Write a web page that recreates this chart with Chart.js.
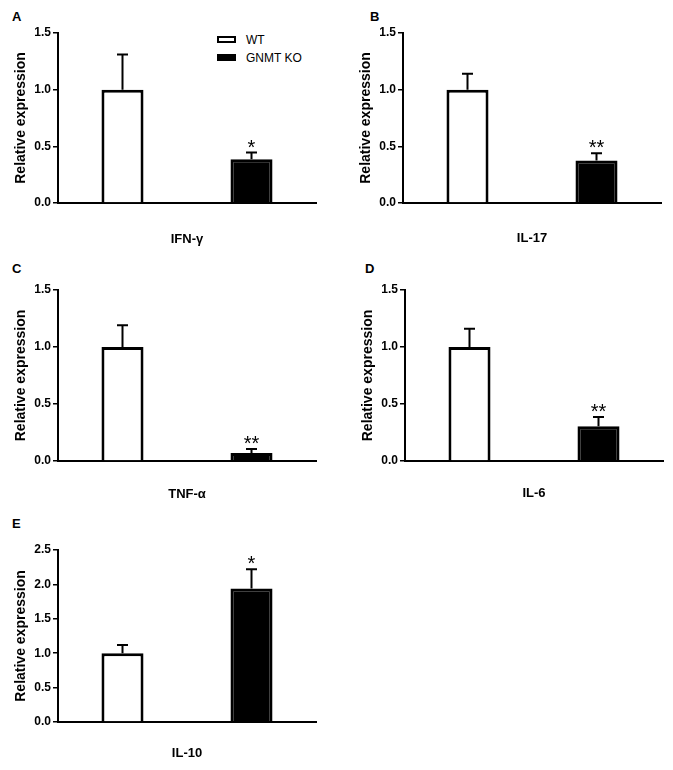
<!DOCTYPE html>
<html>
<head>
<meta charset="utf-8">
<script src="https://cdn.jsdelivr.net/npm/chart.js@4.4.0/dist/chart.umd.min.js"></script>
<style>
  html, body { margin:0; padding:0; background:#fff; }
  #fig { position:relative; width:673px; height:770px; overflow:hidden; font-family:"Liberation Sans", Arial, Helvetica, sans-serif; }
  #fig canvas { position:absolute; }
  .letter { position:absolute; font-weight:bold; font-size:13px; line-height:13px; color:#000; }
  .lg { position:absolute; font-size:12px; line-height:14px; color:#000; }
  .lg i { position:absolute; left:0; top:3px; width:15px; height:3px; border:2.5px solid #000; }
  .lg span { position:absolute; left:29px; top:0; white-space:nowrap; }
</style>
</head>
<body>
<div id="fig">
  <div class="letter" style="left:12px;top:10px">A</div>
  <div class="letter" style="left:370px;top:10px">B</div>
  <div class="letter" style="left:12px;top:262px">C</div>
  <div class="letter" style="left:365px;top:262px">D</div>
  <div class="letter" style="left:12px;top:517px">E</div>
  <div class="lg" style="left:217px;top:33px"><i style="background:#fff"></i><span>WT</span></div>
  <div class="lg" style="left:217px;top:51px"><i style="background:#000"></i><span>GNMT KO</span></div>
</div>
<script>
// data
const groups    = ['WT','GNMT KO'];
const cytokines = ['IFN-γ','IL-17','TNF-α','IL-6','IL-10'];
const wtMean    = [1.00, 1.00, 1.00, 1.00, 1.00];
const wtSem     = [0.31, 0.14, 0.19, 0.16, 0.12];
const koMean    = [0.385, 0.375, 0.07, 0.305, 1.94];
const koSem     = [0.06, 0.065, 0.035, 0.08, 0.28];
const koStars   = ['*','**','**','**','*'];
const yMax      = [1.5, 1.5, 1.5, 1.5, 2.5];
const yStep     = 0.5;

// where each panel's canvas sits on the page
const boxes = [
  {left:0,   top:0,   w:326, h:250, padTop:33, zero:203, titleY:239},
  {left:345, top:0,   w:326, h:250, padTop:33, zero:203, titleY:238},
  {left:0,   top:255, w:326, h:250, padTop:35, zero:461, titleY:494},
  {left:347, top:255, w:326, h:250, padTop:35, zero:461, titleY:493},
  {left:0,   top:515, w:326, h:255, padTop:35, zero:722, titleY:753}
];

const FONT = '"Liberation Sans", Arial, Helvetica, sans-serif';
const INK = '#000';

const errPlugin = {
  id:'errbars',
  afterDatasetsDraw(chart){
    const {ctx, scales:{y}} = chart;
    const meta = chart.getDatasetMeta(0);
    const ds = chart.data.datasets[0];
    ctx.save();
    ctx.strokeStyle = INK; ctx.lineWidth = 2;
    meta.data.forEach((bar,i)=>{
      const top = y.getPixelForValue(ds.data[i] + ds.sem[i]);
      const base = y.getPixelForValue(ds.data[i]);
      ctx.beginPath();
      ctx.moveTo(bar.x, base); ctx.lineTo(bar.x, top);
      ctx.moveTo(bar.x-5.5, top); ctx.lineTo(bar.x+5.5, top);
      ctx.stroke();
      if (ds.stars[i]) {
        ctx.fillStyle = INK;
        ctx.font = '20px ' + FONT;
        ctx.textAlign = 'center'; ctx.textBaseline = 'alphabetic';
        ctx.fillText(ds.stars[i], bar.x, top + 1);
      }
    });
    ctx.restore();
  }
};

const fig = document.getElementById('fig');
cytokines.forEach((name,k)=>{
  const b = boxes[k];
  const cv = document.createElement('canvas');
  cv.width = b.w; cv.height = b.h;
  cv.style.left = b.left+'px'; cv.style.top = b.top+'px';
  fig.appendChild(cv);
  const xH = b.h - (b.zero - b.top);
  const titleLH = 13*1.2;
  new Chart(cv, {
    type:'bar',
    data:{
      labels: groups,
      datasets:[{
        data:[wtMean[k], koMean[k]],
        sem:[wtSem[k], koSem[k]],
        stars:['', koStars[k]],
        backgroundColor:['#ffffff', INK],
        borderColor: INK,
        borderWidth: 3,
        borderSkipped: 'bottom',
        barPercentage: 0.326,
        categoryPercentage: 1
      }]
    },
    options:{
      responsive:false, animation:false, devicePixelRatio:1,
      layout:{ padding:{ top:b.padTop, right:10, left:0, bottom:0 } },
      plugins:{ legend:{display:false}, tooltip:{enabled:false} },
      scales:{
        x:{
          grid:{ display:false },
          border:{ display:true, color:INK, width:2 },
          ticks:{ display:false },
          title:{ display:true, text:name, color:INK,
                  font:{ family:FONT, size:13, weight:'bold' },
                  padding:{ top:0, bottom: (b.top + b.h) - titleLH/2 - b.titleY } },
          afterFit(s){ s.height = xH; }
        },
        y:{
          min:0, max:yMax[k],
          grid:{ display:true, drawOnChartArea:false, drawTicks:true, tickLength:5, color:INK, lineWidth:1.5 },
          border:{ display:true, color:INK, width:2 },
          ticks:{ stepSize:yStep, padding:2, color:INK,
                  font:{ family:FONT, size:12, weight:'bold' },
                  callback:v=>v.toFixed(1) },
          title:{ display:true, text:'Relative expression', color:INK,
                  font:{ family:FONT, size:14, weight:'bold' },
                  padding:{ top:13, bottom:0 } },
          afterFit(s){ s.width = 58; }
        }
      }
    },
    plugins:[errPlugin]
  });
});
</script>
</body>
</html>
